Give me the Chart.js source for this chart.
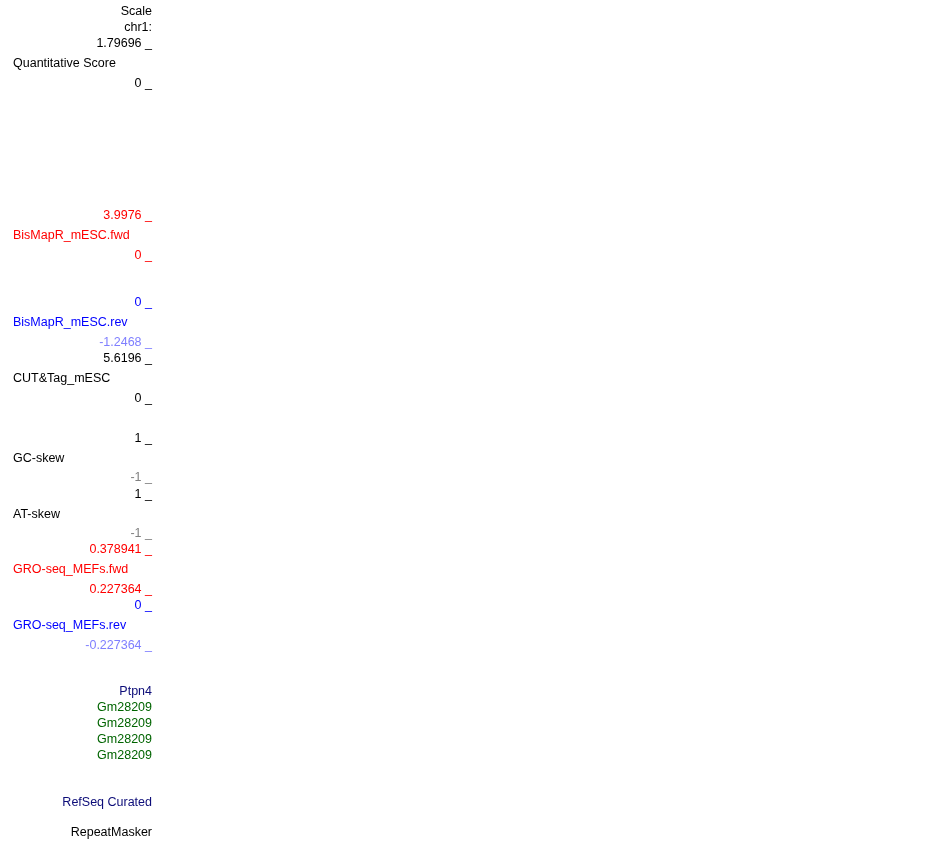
<!DOCTYPE html>
<html>
<head>
<meta charset="utf-8">
<script src="https://cdn.jsdelivr.net/npm/chart.js@4/dist/chart.umd.min.js"></script>
<style>
  html, body { margin:0; padding:0; background:#fff; }
  #wrap { width:950px; height:841px; }
</style>
</head>
<body>
<div id="wrap"><canvas id="browser" width="950" height="841"></canvas></div>
<script>
// Заголовок
const headerLabels = ['Scale', 'chr1:'];

// Треки с количественной шкалой
const trackNames = ['Quantitative Score', 'BisMapR_mESC.fwd', 'BisMapR_mESC.rev', 'CUT&Tag_mESC',
                    'GC-skew', 'AT-skew', 'GRO-seq_MEFs.fwd', 'GRO-seq_MEFs.rev'];
const trackMax = [1.79696, 3.9976, 0, 5.6196, 1, 1, 0.378941, 0];
const trackMin = [0, 0, -1.2468, 0, -1, -1, 0.227364, -0.227364];

// Гены и нижние треки
const geneLabels = ['Ptpn4', 'Gm28209', 'Gm28209', 'Gm28209', 'Gm28209'];
const bottomTracks = ['RefSeq Curated', 'RepeatMasker'];

// Цвета
const maxColors = ['#000000', '#ff0000', '#0000ff', '#000000', '#000000', '#000000', '#ff0000', '#0000ff'];
const minColors = ['#000000', '#ff0000', '#7f7fff', '#000000', '#808080', '#808080', '#ff0000', '#7f7fff'];
const geneColors = ['#0c0c78', '#006400', '#006400', '#006400', '#006400'];
const bottomColors = ['#0c0c78', '#000000'];

const FONT = { family: '"Liberation Sans", Arial, sans-serif', size: 12.5 };
const AXIS_W = 155;

// Высоты полос (в пикселях), сверху вниз
const segments = [
  { kind:'gap', h:4 },
  { kind:'header', h:32 },
  { kind:'gap', h:8 },
  { kind:'track', i:0, h:40 },
  { kind:'gap', h:132 },
  { kind:'track', i:1, h:40 },
  { kind:'gap', h:47 },
  { kind:'track', i:2, h:40 },
  { kind:'gap', h:16 },
  { kind:'track', i:3, h:40 },
  { kind:'gap', h:40 },
  { kind:'track', i:4, h:39 },
  { kind:'gap', h:17 },
  { kind:'track', i:5, h:39 },
  { kind:'gap', h:16 },
  { kind:'track', i:6, h:40 },
  { kind:'gap', h:16 },
  { kind:'track', i:7, h:40 },
  { kind:'gap', h:38 },
  { kind:'genes', h:80 },
  { kind:'gap', h:31 },
  { kind:'bottom', i:0, h:16 },
  { kind:'gap', h:15 },
  { kind:'bottom', i:1, h:14 },
  { kind:'gap', h:1 }
];

function baseAxis(seg, n) {
  return {
    position: 'left',
    stack: 'tracks',
    stackWeight: seg.h,
    weight: segments.length - n,   // выше = раньше
    grid: { display: false, drawTicks: false },
    border: { display: false },
    afterFit: s => {
      s.width = AXIS_W;
      // без запаса под крайние подписи, иначе полосы сжимаются
      s.paddingTop = 0;
      s.paddingBottom = 0;
    }
  };
}

const scales = {
  x: { type: 'linear', display: false, min: 0, max: 1 }
};

segments.forEach((seg, n) => {
  const ax = baseAxis(seg, n);
  if (seg.kind === 'gap') {
    Object.assign(ax, { type: 'linear', min: 0, max: 1, ticks: { display: false } });
  } else if (seg.kind === 'header') {
    Object.assign(ax, { type: 'category', labels: headerLabels, offset: true,
      ticks: { autoSkip: false, padding: 3, color: '#000', font: FONT } });
  } else if (seg.kind === 'track') {
    const i = seg.i;
    Object.assign(ax, {
      type: 'linear', min: trackMin[i], max: trackMax[i],
      trackName: trackNames[i], trackColor: maxColors[i],
      afterBuildTicks: s => { s.ticks = [{ value: trackMax[i] }, { value: trackMin[i] }]; },
      ticks: {
        autoSkip: false, padding: 3, font: FONT,
        callback: v => String(v) + ' _',
        color: c => (c.tick && c.tick.value === trackMin[i] ? minColors[i] : maxColors[i])
      }
    });
  } else if (seg.kind === 'genes') {
    Object.assign(ax, { type: 'category', labels: geneLabels, offset: true,
      ticks: { autoSkip: false, padding: 3, font: FONT, color: c => geneColors[c.index] } });
  } else if (seg.kind === 'bottom') {
    Object.assign(ax, { type: 'category', labels: [bottomTracks[seg.i]], offset: true,
      ticks: { autoSkip: false, padding: 3, font: FONT, color: bottomColors[seg.i] } });
  }
  scales['y' + n] = ax;
});

// Подписи треков слева
const trackNamePlugin = {
  id: 'trackNames',
  afterDraw(chart) {
    const ctx = chart.ctx;
    ctx.save();
    ctx.font = FONT.size + 'px ' + FONT.family;
    ctx.textAlign = 'left';
    ctx.textBaseline = 'middle';
    Object.values(chart.scales).forEach(s => {
      if (!s.options.trackName) return;
      ctx.fillStyle = s.options.trackColor;
      ctx.fillText(s.options.trackName, 13, (s.top + s.bottom) / 2);
    });
    ctx.restore();
  }
};

new Chart(document.getElementById('browser'), {
  type: 'line',
  data: { datasets: [] },
  options: {
    responsive: false,
    animation: false,
    devicePixelRatio: 1,
    layout: { padding: 0 },
    plugins: { legend: { display: false }, tooltip: { enabled: false } },
    scales: scales
  },
  plugins: [trackNamePlugin]
});
</script>
</body>
</html>
